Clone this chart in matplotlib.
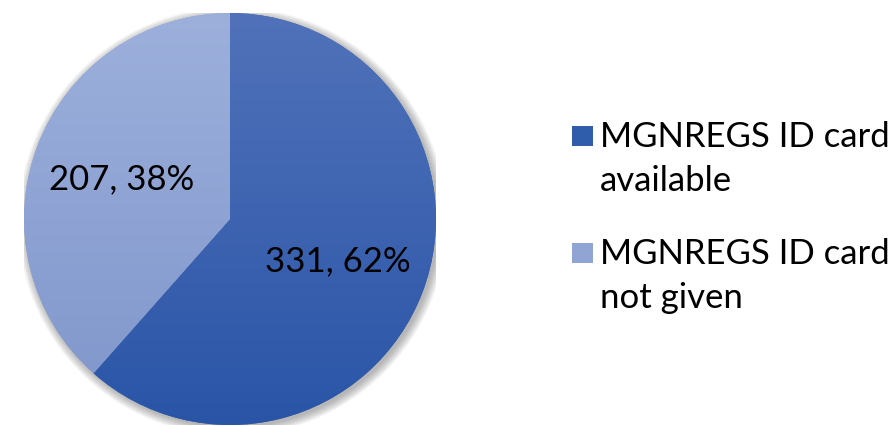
import matplotlib
matplotlib.use("Agg")
import matplotlib.pyplot as plt
import numpy as np
from matplotlib.patches import Rectangle, Circle
from matplotlib.colors import LinearSegmentedColormap

plt.rcParams['font.family'] = ['Lato', 'DejaVu Sans']

categories = ["MGNREGS ID card\navailable", "MGNREGS ID card\nnot given"]
counts = [331, 207]
percents = [62, 38]
colors = ["#3A62B0", "#8FA5D5"]
grad_top = ["#5172BA", "#9DB0DC"]
grad_bottom = ["#2A55A7", "#7F96CB"]

fig = plt.figure(figsize=(8.96, 4.27), dpi=100)
ax = fig.add_axes([24/896, 1/427, 412/896, 412/427])

# soft shadow
for i in range(10):
    ax.add_patch(Circle((0.012, -0.012), 1.0 + i * 0.0045, facecolor='#404040',
                        edgecolor='none', alpha=0.045, zorder=0))

labels = [f"{c}, {p}%" for c, p in zip(counts, percents)]
wedges, texts = ax.pie(counts, colors=colors, startangle=90, counterclock=False,
                       labels=labels, labeldistance=0.56,
                       textprops=dict(fontsize=25, color='black'))
grad = np.linspace(0, 1, 256).reshape(-1, 1)
for w, ct, cb in zip(wedges, grad_top, grad_bottom):
    w.set_zorder(1)
    cmap = LinearSegmentedColormap.from_list('g', [cb, ct])
    im = ax.imshow(grad, cmap=cmap, extent=(-1, 1, -1, 1), origin='lower',
                   aspect='auto', zorder=2)
    im.set_clip_path(w)
for t in texts:
    t.set_ha('center')
    t.set_va('center')
    t.set_zorder(5)
ax.set_xlim(-1, 1)
ax.set_ylim(-1, 1)
ax.set_aspect('equal')
ax.axis('off')

# legend drawn manually (square aligned with first text line)
W, H = 896, 427
sq = ["#2F5CAB", "#91A5D5"]
item_tops = [127, 244]
for c, lab, top in zip(sq, categories, item_tops):
    fig.patches.append(Rectangle((572 / W, 1 - (top + 20) / H), 21 / W, 20 / H,
                                 facecolor=c, edgecolor='none',
                                 transform=fig.transFigure, figure=fig))
    fig.text(600 / W, 1 - (top - 6) / H, lab, fontsize=25, ha='left',
             va='top', linespacing=1.45, color='black')

fig.savefig("out.png", dpi=100)
